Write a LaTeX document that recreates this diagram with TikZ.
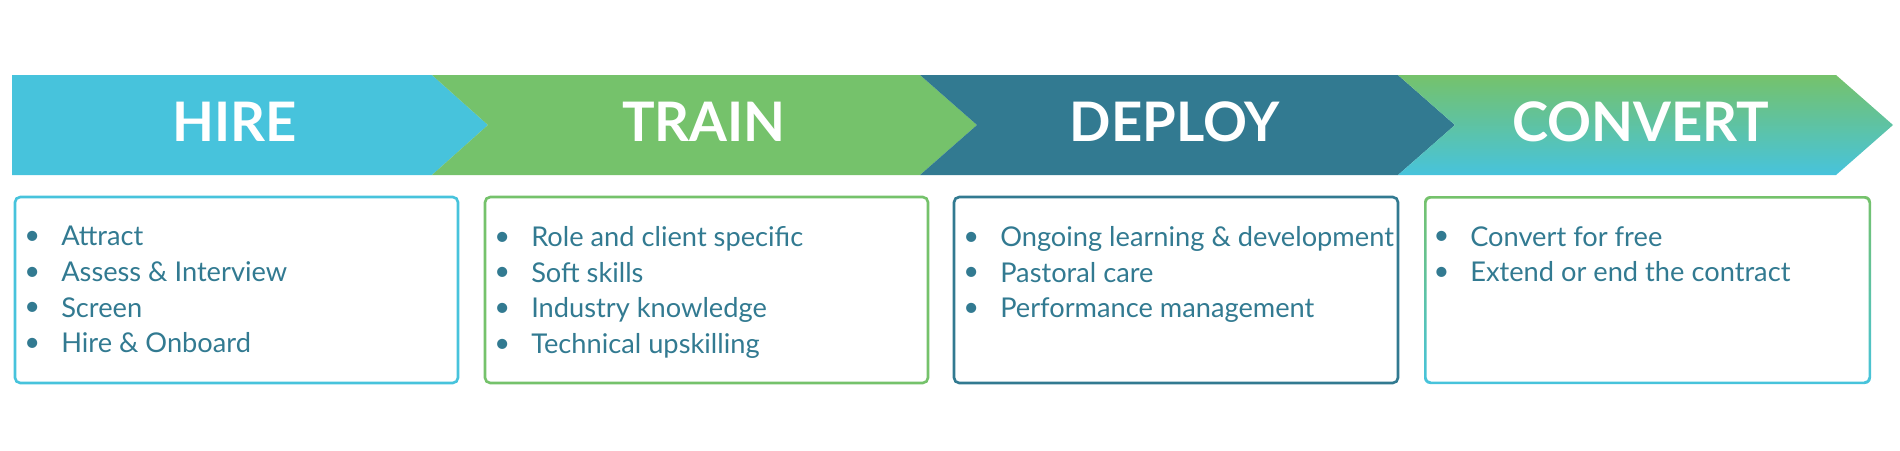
\documentclass[tikz,border=0pt]{standalone}
\usepackage{fontspec}
\setmainfont{Lato}
\usetikzlibrary{positioning}
\definecolor{hirecol}{HTML}{47C3DC}
\definecolor{traincol}{HTML}{75C26B}
\definecolor{deploycol}{HTML}{327A91}
\newcommand{\stepitems}[1]{%
  \begin{minipage}[t]{9cm}\raggedright
  \begin{itemize}\setlength{\itemsep}{0pt}\setlength{\parskip}{0pt}%
  \setlength{\leftmargin}{0.5cm}\setlength{\labelsep}{0.42cm}
  #1\end{itemize}\end{minipage}}
\renewcommand{\labelitemi}{\raisebox{0.05em}{\textbullet}}
\begin{document}
\begin{tikzpicture}[x=0.02cm,y=-0.02cm,
  phase/.style={font=\fontsize{31}{31}\selectfont\bfseries, text=white},
  listbox/.style={draw, line width=1.5pt, rounded corners=3pt},
  items/.style={anchor=north west, inner sep=0pt, text=deploycol,
    font=\fontsize{15.5}{20.3}\selectfont}]
\useasboundingbox (0,0) rectangle (1900,450);
% banner
\fill[hirecol] (12,75) -- (432,75) -- (488,125) -- (432,175) -- (12,175) -- cycle;
\fill[traincol] (432,75) -- (920,75) -- (977,125) -- (920,175) -- (432,175) -- (488,125) -- cycle;
\fill[deploycol] (920,75) -- (1398,75) -- (1455,125) -- (1398,175) -- (920,175) -- (977,125) -- cycle;
\shade[top color=traincol, bottom color=hirecol] (1398,75) -- (1836,75) -- (1893,125) -- (1836,175) -- (1398,175) -- (1455,125) -- cycle;
\node[phase] (hire) at (235,122) {HIRE};
\node[phase] (train) at (704,122) {TRAIN};
\node[phase] (deploy) at (1175,122) {DEPLOY};
\node[phase] (convert) at (1641,122) {CONVERT};
% boxes
\draw[listbox, hirecol] (15,197) rectangle (458,383);
\draw[listbox, traincol] (485,197) rectangle (928,383);
\draw[listbox, deploycol] (954,197) rectangle (1398,383);
\shade[top color=traincol, bottom color=hirecol, even odd rule, rounded corners=3.5pt]
  (1424,196) rectangle (1871,384) [rounded corners=2.5pt] (1426.5,198.5) rectangle (1868.5,381.5);
\node[items] (hirelist) at (17,226) {\stepitems{\item Attract \item Assess \& Interview \item Screen \item Hire \& Onboard}};
\node[items] (trainlist) at (487,226) {\stepitems{\item Role and client specific \item Soft skills \item Industry knowledge \item Technical upskilling}};
\node[items] (deploylist) at (956,226) {\stepitems{\item Ongoing learning \& development \item Pastoral care \item Performance management}};
\node[items] (convertlist) at (1426,226) {\stepitems{\item Convert for free \item Extend or end the contract}};
\end{tikzpicture}
\end{document}
